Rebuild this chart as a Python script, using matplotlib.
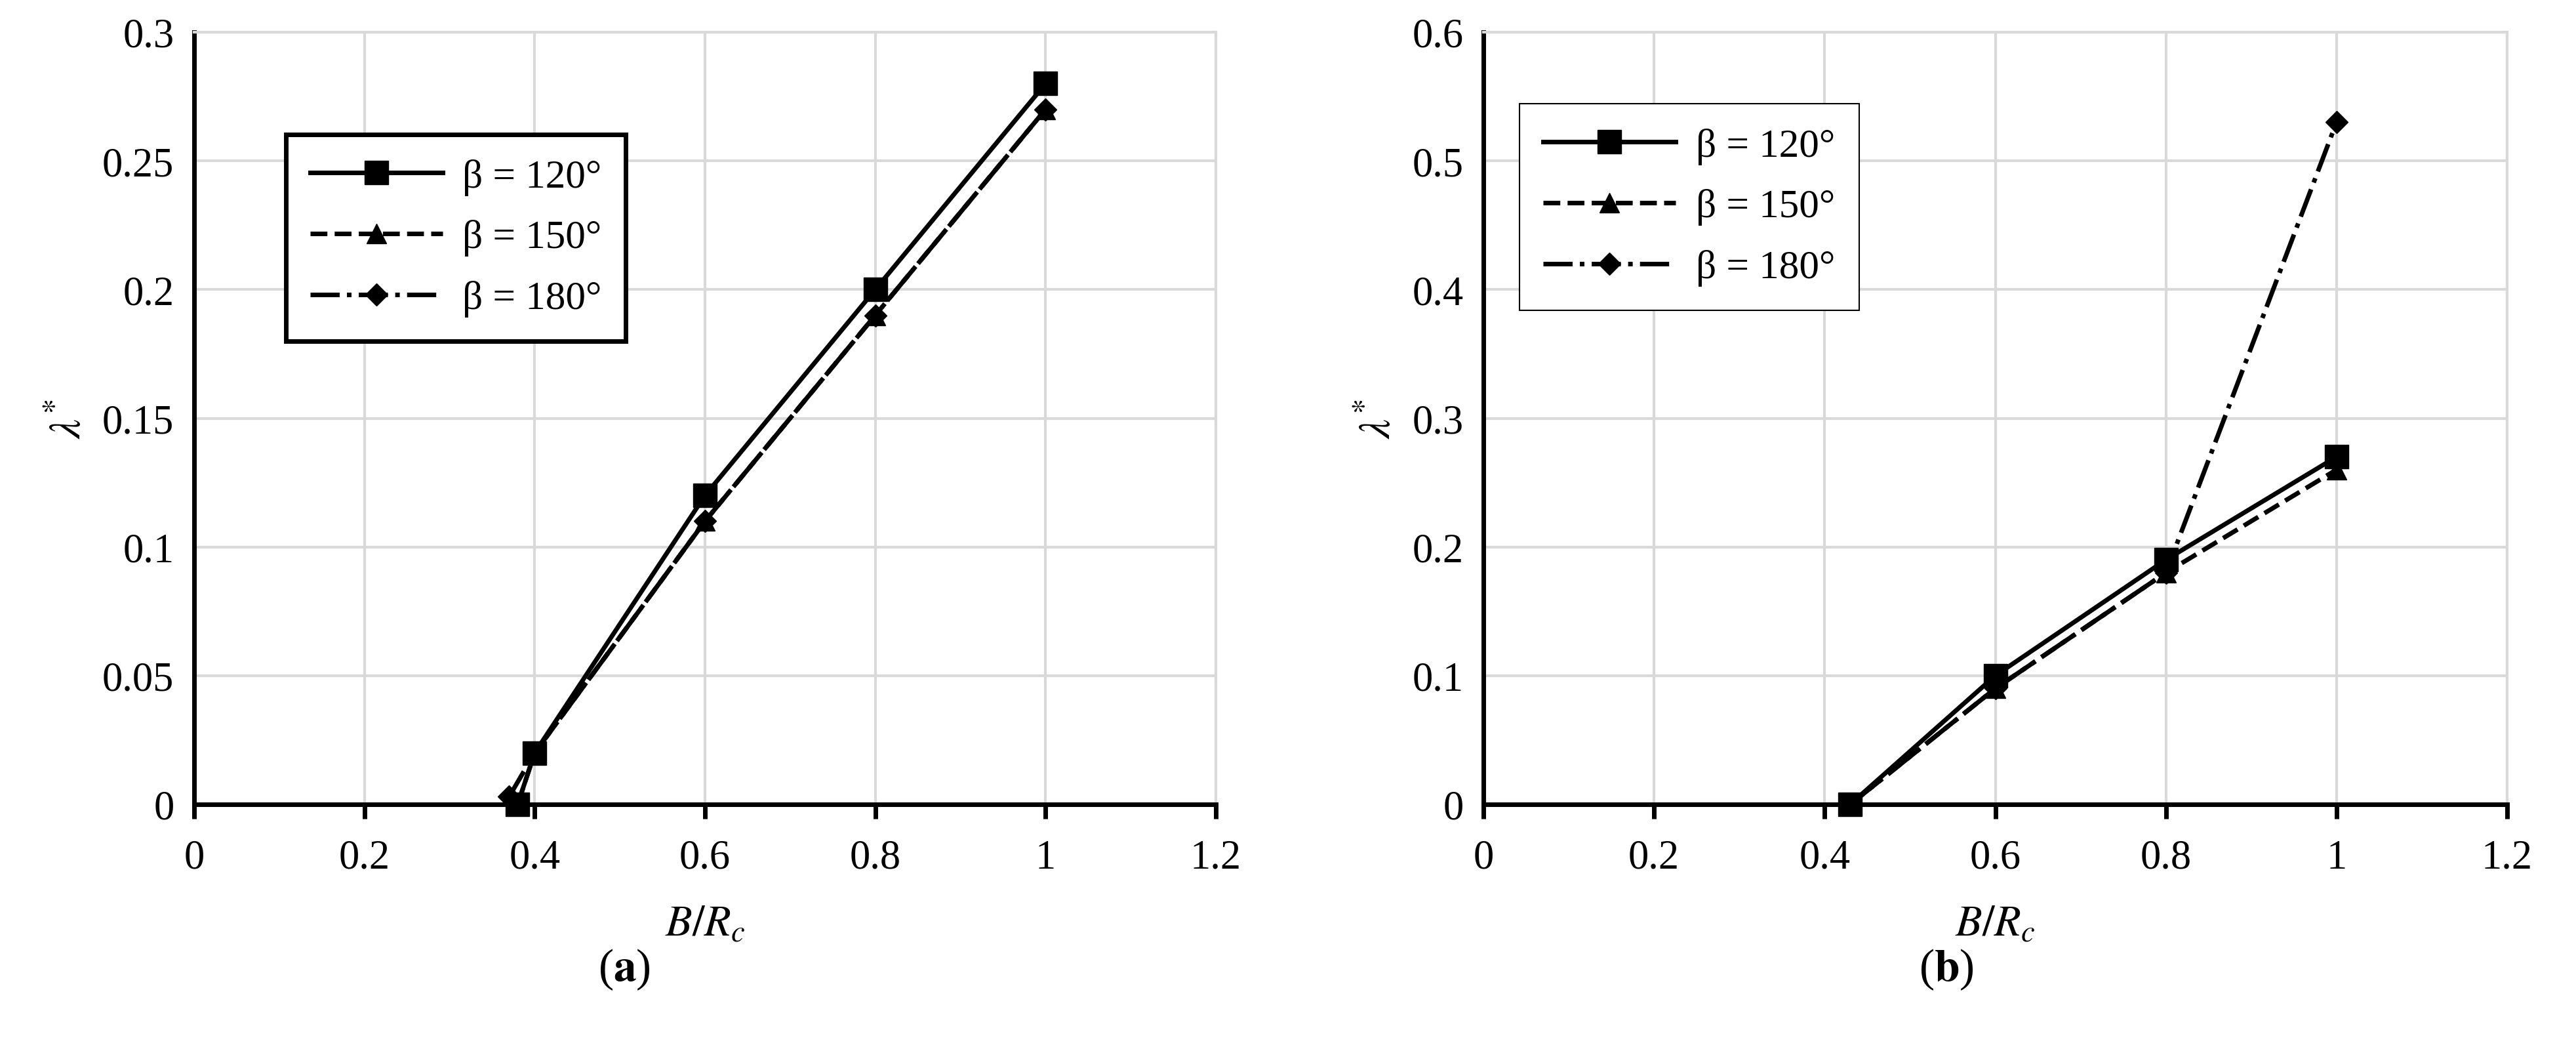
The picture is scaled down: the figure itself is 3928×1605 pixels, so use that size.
import matplotlib.pyplot as plt

plt.rcParams['font.family'] = ['Liberation Serif', 'DejaVu Serif']
plt.rcParams['mathtext.fontset'] = 'stix'

labels = ['β = 120°', 'β = 150°', 'β = 180°']

# panel (a)
a_x = [[0.38, 0.40, 0.60, 0.80, 1.00],
       [0.38, 0.40, 0.60, 0.80, 1.00],
       [0.37, 0.40, 0.60, 0.80, 1.00]]
a_y = [[0.0, 0.02, 0.12, 0.20, 0.28],
       [0.0, 0.02, 0.11, 0.19, 0.27],
       [0.003, 0.02, 0.11, 0.19, 0.27]]

# panel (b)
b_x = [[0.43, 0.60, 0.80, 1.00],
       [0.43, 0.60, 0.80, 1.00],
       [0.43, 0.60, 0.80, 1.00]]
b_y = [[0.0, 0.10, 0.19, 0.27],
       [0.0, 0.09, 0.18, 0.26],
       [0.0, 0.09, 0.18, 0.53]]

styles = [('-', 's', 26), ('--', '^', 22), ('-.', 'D', 17)]

W, H = 3928, 1606
fig = plt.figure(figsize=(W / 100, H / 100), dpi=100)
axa = fig.add_axes([296 / W, 1 - 1227 / H, (1854 - 296) / W, (1227 - 50) / H])
axb = fig.add_axes([2262 / W, 1 - 1227 / H, (3823 - 2262) / W, (1227 - 50) / H])

for ax, xs, ys, ymax, yticks, ytl, leg_loc, frame_lw in [
        (axa, a_x, a_y, 0.3, [0, 0.05, 0.1, 0.15, 0.2, 0.25, 0.3],
         ['0', '0.05', '0.1', '0.15', '0.2', '0.25', '0.3'], (0.09, 0.6), 5),
        (axb, b_x, b_y, 0.6, [0, 0.1, 0.2, 0.3, 0.4, 0.5, 0.6],
         ['0', '0.1', '0.2', '0.3', '0.4', '0.5', '0.6'], (0.035, 0.64), 1.5)]:
    for x, y, lab, (ls, mk, ms) in zip(xs, ys, labels, styles):
        ax.plot(x, y, color='black', linestyle=ls, linewidth=5, marker=mk,
                markersize=ms, label=lab, clip_on=False, zorder=3)
    ax.set_xlim(0, 1.2)
    ax.set_ylim(0, ymax)
    ax.set_xticks([0, 0.2, 0.4, 0.6, 0.8, 1.0, 1.2])
    ax.set_xticklabels(['0', '0.2', '0.4', '0.6', '0.8', '1', '1.2'])
    ax.set_yticks(yticks)
    ax.set_yticklabels(ytl)
    ax.grid(True, color='#d9d9d9', linewidth=3)
    ax.set_axisbelow(True)
    for s in ['top', 'right']:
        ax.spines[s].set_color('#d9d9d9')
        ax.spines[s].set_linewidth(3)
    for s in ['left', 'bottom']:
        ax.spines[s].set_linewidth(5)
    ax.tick_params(labelsize=45, width=5, length=16, direction='out', pad=22)
    ax.tick_params(axis='y', length=0)
    ax.set_xlabel('$B/R_c$', fontsize=48, labelpad=30)
    ax.set_ylabel(r'$\lambda^{*}$', fontsize=48, labelpad=14)
    leg = ax.legend(loc='lower left', bbox_to_anchor=leg_loc, fontsize=44,
                    fancybox=False, edgecolor='black', framealpha=1,
                    handlelength=3.3, labelspacing=0.6, borderpad=0.6,
                    handletextpad=0.5, borderaxespad=0)
    leg.get_frame().set_linewidth(frame_lw)

fig.text(952 / W, 1 - 1478 / H, r'($\mathbf{a}$)', fontsize=50, ha='center', va='center')
fig.text(2968 / W, 1 - 1478 / H, r'($\mathbf{b}$)', fontsize=50, ha='center', va='center')

fig.savefig('out.png', dpi=100, facecolor='white')
